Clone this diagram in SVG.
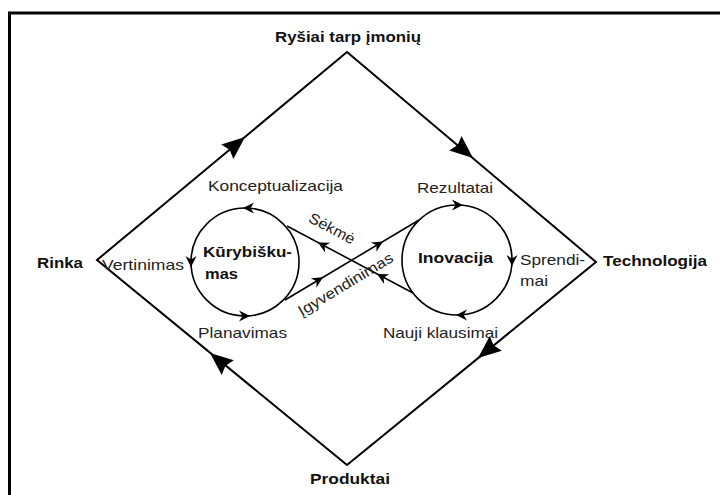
<svg xmlns="http://www.w3.org/2000/svg" xmlns:xlink="http://www.w3.org/1999/xlink" width="720" height="495" viewBox="0 0 720 495">
<style>
.frame{fill:none;stroke:#000;stroke-width:3}
.edge{fill:none;stroke:#000;stroke-width:2}
.ring{fill:none;stroke:#000;stroke-width:1.6}
.link{fill:none;stroke:#000;stroke-width:1.6}
.ah{fill:#000;stroke:none}
.lb{font-family:"Liberation Sans",Arial,sans-serif;font-size:15px;fill:#222}
.bd{font-family:"Liberation Sans",Arial,sans-serif;font-size:15px;font-weight:bold;fill:#111}
</style>
<defs>
<path id="big" d="M0,0 L-23,-9.5 L-20,0 L-23,9.5 Z"/>
<path id="sm" d="M0,0 L-11,-5.5 L-7.5,0 L-11,5.5 Z"/>
</defs>
<rect width="720" height="495" fill="#fff"/>
<path class="frame" d="M9.5,495 V13 H720"/>

<g id="connectors">
<path class="edge" d="M97,260 L347,52 L596,262 L347,465 Z"/>
<use href="#big" class="ah" transform="translate(245,137) rotate(-39.8)"/>
<use href="#big" class="ah" transform="translate(473,158) rotate(40.1)"/>
<use href="#big" class="ah" transform="translate(478,358) rotate(140.8)"/>
<use href="#big" class="ah" transform="translate(210,353) rotate(-140.6)"/>
<line class="link" x1="287" y1="226" x2="413" y2="293"/>
<line class="link" x1="285" y1="300" x2="419" y2="220"/>
<use href="#sm" class="ah" transform="translate(318,242.5) rotate(208)"/>
<use href="#sm" class="ah" transform="translate(377,274) rotate(208)"/>
<use href="#sm" class="ah" transform="translate(323,277.3) rotate(-30.8)"/>
<use href="#sm" class="ah" transform="translate(383,241.5) rotate(-30.8)"/>
<text class="lb" text-anchor="middle" transform="translate(330,232) rotate(28)" y="1" textLength="50" lengthAdjust="spacingAndGlyphs">Sėkmė</text>
<text class="lb" text-anchor="middle" transform="translate(343,280) rotate(-31)" y="10" textLength="108" lengthAdjust="spacingAndGlyphs">Įgyvendinimas</text>
</g>

<g id="node-rysiai">
<text class="bd" x="348" y="42" text-anchor="middle" textLength="146" lengthAdjust="spacingAndGlyphs">Ryšiai tarp įmonių</text>
</g>
<g id="node-rinka">
<text class="bd" x="37" y="268" textLength="46" lengthAdjust="spacingAndGlyphs">Rinka</text>
</g>
<g id="node-technologija">
<text class="bd" x="603" y="266" textLength="104" lengthAdjust="spacingAndGlyphs">Technologija</text>
</g>
<g id="node-produktai">
<text class="bd" x="310" y="484" textLength="80" lengthAdjust="spacingAndGlyphs">Produktai</text>
</g>

<g id="node-kurybiskumas">
<circle class="ring" cx="245" cy="262" r="54"/>
<use href="#sm" class="ah" transform="translate(243,208) rotate(180)"/>
<use href="#sm" class="ah" transform="translate(191,267) rotate(90)"/>
<use href="#sm" class="ah" transform="translate(250,316)"/>
<text class="bd" x="203" y="257" textLength="89" lengthAdjust="spacingAndGlyphs">Kūrybišku-</text>
<text class="bd" x="205" y="279" textLength="33" lengthAdjust="spacingAndGlyphs">mas</text>
<text class="lb" x="208" y="191" textLength="135" lengthAdjust="spacingAndGlyphs">Konceptualizacija</text>
<text class="lb" x="102" y="270" textLength="82" lengthAdjust="spacingAndGlyphs">Vertinimas</text>
<text class="lb" x="198" y="338" textLength="89" lengthAdjust="spacingAndGlyphs">Planavimas</text>
</g>

<g id="node-inovacija">
<circle class="ring" cx="457" cy="260" r="55"/>
<use href="#sm" class="ah" transform="translate(463,205)"/>
<use href="#sm" class="ah" transform="translate(512,266) rotate(90)"/>
<use href="#sm" class="ah" transform="translate(456,315) rotate(180)"/>
<text class="bd" x="418" y="263" textLength="75" lengthAdjust="spacingAndGlyphs">Inovacija</text>
<text class="lb" x="417" y="193" textLength="76" lengthAdjust="spacingAndGlyphs">Rezultatai</text>
<text class="lb" x="520" y="265" textLength="65" lengthAdjust="spacingAndGlyphs">Sprendi-</text>
<text class="lb" x="520" y="286" textLength="28" lengthAdjust="spacingAndGlyphs">mai</text>
<text class="lb" x="383" y="338" textLength="115" lengthAdjust="spacingAndGlyphs">Nauji klausimai</text>
</g>
</svg>
